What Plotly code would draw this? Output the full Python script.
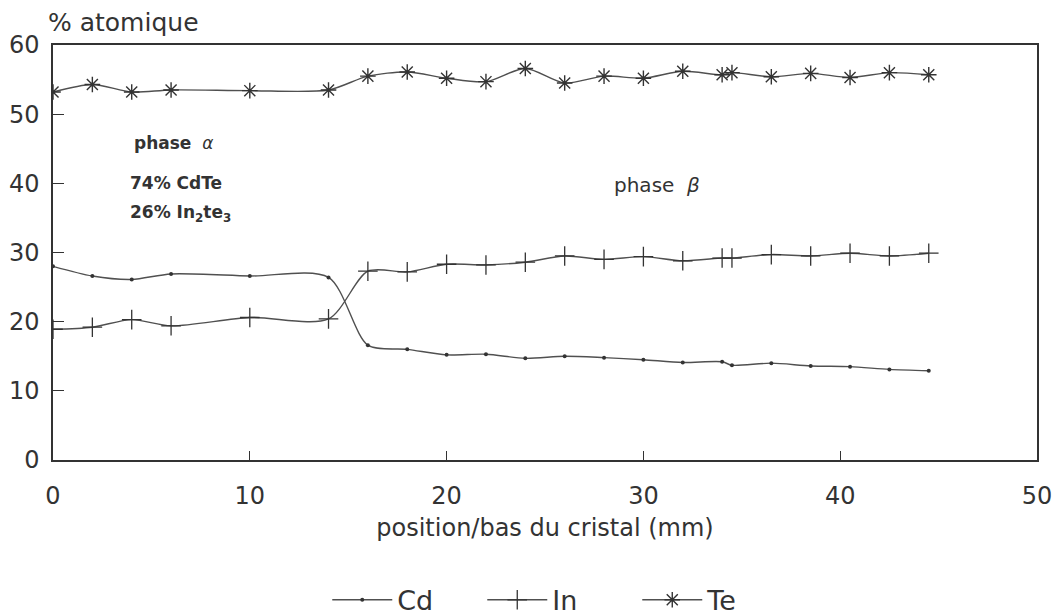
import plotly.graph_objects as go

# position (mm) / % atomique
x_cd = [0, 2, 4, 6, 10, 14, 16, 18, 20, 22, 24, 26, 28, 30, 32, 34, 34.5, 36.5, 38.5, 40.5, 42.5, 44.5]
cd = [28.0, 26.6, 26.1, 26.9, 26.6, 26.4, 16.6, 16.0, 15.2, 15.3, 14.7, 15.0, 14.8, 14.5, 14.1, 14.2, 13.7, 14.0, 13.6, 13.5, 13.1, 12.9]

x_in = [0, 2, 4, 6, 10, 14, 16, 18, 20, 22, 24, 26, 28, 30, 32, 34, 34.5, 36.5, 38.5, 40.5, 42.5, 44.5]
in_ = [18.9, 19.2, 20.3, 19.4, 20.6, 20.4, 27.3, 27.2, 28.3, 28.2, 28.6, 29.5, 29.0, 29.4, 28.8, 29.2, 29.2, 29.7, 29.5, 29.9, 29.5, 29.9]

x_te = [0, 2, 4, 6, 10, 14, 16, 18, 20, 22, 24, 26, 28, 30, 32, 34, 34.5, 36.5, 38.5, 40.5, 42.5, 44.5]
te = [53.2, 54.3, 53.2, 53.5, 53.4, 53.5, 55.5, 56.1, 55.2, 54.7, 56.6, 54.5, 55.5, 55.2, 56.2, 55.7, 56.0, 55.4, 55.9, 55.3, 56.0, 55.7]

x_ticks = [0, 10, 20, 30, 40, 50]
y_ticks = [0, 10, 20, 30, 40, 50, 60]

INK = "#333333"
LINE = "#505050"
FONT = "DejaVu Sans, sans-serif"

fig = go.Figure()
fig.add_trace(go.Scatter(x=x_cd, y=cd, name="Cd", mode="lines+markers",
                         line=dict(color=LINE, width=1.4, shape="spline", smoothing=0.8),
                         marker=dict(symbol="circle", size=4, color=INK)))
fig.add_trace(go.Scatter(x=x_in, y=in_, name="In", mode="lines+markers",
                         line=dict(color=LINE, width=1.4, shape="spline", smoothing=0.8),
                         marker=dict(symbol="cross-thin", size=14, color=INK,
                                     line=dict(color=INK, width=1.3))))
fig.add_trace(go.Scatter(x=x_te, y=te, name="Te", mode="lines+markers",
                         line=dict(color=LINE, width=1.4, shape="spline", smoothing=0.8),
                         marker=dict(symbol="asterisk", size=13, color=INK,
                                     line=dict(color=INK, width=1.4))))

fig.update_xaxes(range=[0, 50], tickvals=x_ticks, ticks="inside", ticklen=9,
                 tickcolor=INK, tickwidth=1.2, showline=True, linecolor=INK,
                 linewidth=1.5, mirror=True, showgrid=False, zeroline=False,
                 automargin=False, ticklabelstandoff=13,
                 tickfont=dict(size=24, color=INK, family=FONT),
                 title=dict(text="position/bas du cristal (mm)", standoff=11,
                            font=dict(size=24, color=INK, family=FONT)))
fig.update_yaxes(range=[0, 60], tickvals=y_ticks, ticks="inside", ticklen=11,
                 tickcolor=INK, tickwidth=1.2, showline=True, linecolor=INK,
                 linewidth=1.5, mirror=True, showgrid=False, zeroline=False,
                 automargin=False, ticklabelstandoff=7,
                 tickfont=dict(size=24, color=INK, family=FONT))

fig.add_annotation(text="% atomique", xref="paper", yref="paper", x=-0.007, y=1.015,
                   xanchor="left", yanchor="bottom", showarrow=False,
                   font=dict(size=25, color=INK, family=FONT))

notes = [
    (4.0, 45.8, "<b>phase</b>  <i>α</i>", 17),
    (3.8, 40.0, "<b>74% CdTe</b>", 17),
    (3.8, 35.6, "<b>26% In<sub>2</sub>te<sub>3</sub></b>", 17),
    (28.4, 39.7, "phase  <i>β</i>", 20),
]
for nx, ny, txt, fs in notes:
    fig.add_annotation(x=nx, y=ny, text=txt, showarrow=False, xanchor="left",
                       font=dict(size=fs, color=INK, family=FONT))

# the page body adds an 8px offset, so margins are shifted to compensate;
# autoexpand off so the legend below the axes doesn't shrink the plot
fig.update_layout(width=1061, height=616, plot_bgcolor="white", paper_bgcolor="white",
                  margin=dict(l=45, r=32, t=37, b=164, autoexpand=False),
                  font=dict(family=FONT, color=INK),
                  legend=dict(orientation="h", x=0.515, xanchor="center", y=-0.338,
                              yanchor="middle", font=dict(size=27, color=INK),
                              itemwidth=60, entrywidth=80, entrywidthmode="pixels"))

fig.write_html("out.html")
